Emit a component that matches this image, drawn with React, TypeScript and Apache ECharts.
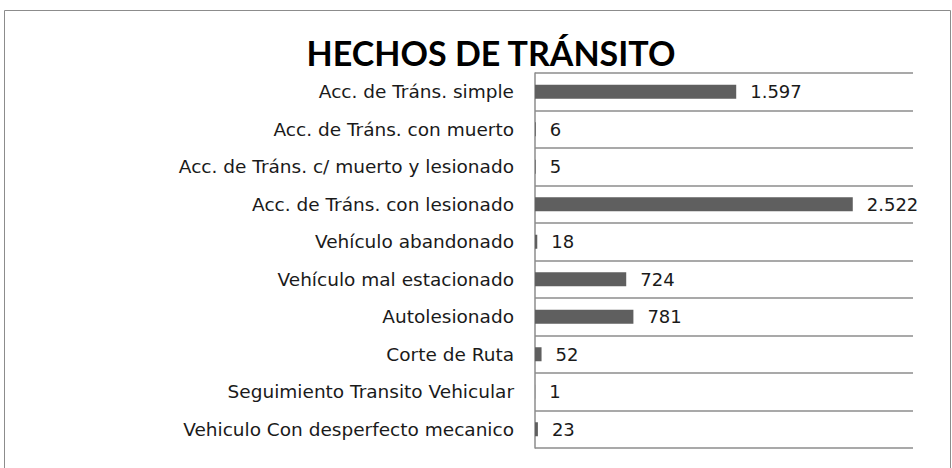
import React, { useEffect, useRef } from "react";
import * as echarts from "echarts";

const categories = [
  "Acc. de Tráns. simple",
  "Acc. de Tráns. con muerto",
  "Acc. de Tráns. c/ muerto y lesionado",
  "Acc. de Tráns. con lesionado",
  "Vehículo abandonado",
  "Vehículo mal estacionado",
  "Autolesionado",
  "Corte de Ruta",
  "Seguimiento Transito Vehicular",
  "Vehiculo Con desperfecto mecanico",
];
const values = [1597, 6, 5, 2522, 18, 724, 781, 52, 1, 23];
const title = "HECHOS DE TRÁNSITO";

const fmt = (v: number) => String(v).replace(/\B(?=(\d{3})+(?!\d))/g, ".");

export default function App() {
  const ref = useRef<HTMLDivElement>(null);
  useEffect(() => {
    document.body.style.margin = "0";
    const chart = echarts.init(ref.current!, null, { renderer: "svg" });
    const font = "DejaVu Sans";
    chart.setOption({
      animation: false,
      title: {
        text: title,
        left: 486,
        top: 30,
        textAlign: "center",
        textStyle: { fontFamily: "Lato", fontWeight: "bold", fontSize: 34, color: "#000" },
      },
      graphic: [
        {
          type: "rect",
          shape: { x: 4.5, y: 10.5, width: 946, height: 470 },
          style: { fill: "none", stroke: "#8c8c8c", lineWidth: 1 },
          silent: true,
        },
      ],
      grid: { left: 535, top: 73, width: 378, height: 375 },
      xAxis: {
        type: "value",
        min: 0,
        max: 3000,
        show: false,
      },
      yAxis: {
        type: "category",
        data: categories,
        inverse: true,
        axisLine: { show: true, lineStyle: { color: "#8c8c8c", width: 1.5 } },
        axisTick: { show: false },
        axisLabel: { fontFamily: font, fontSize: 18.5, color: "#1a1a1a", margin: 21 },
        splitLine: { show: true, lineStyle: { color: "#8c8c8c", width: 1.5 } },
      },
      series: [
        {
          type: "bar",
          data: values,
          barWidth: 14,
          itemStyle: { color: "#5f5f5f" },
          label: {
            show: true,
            position: "right",
            distance: 14,
            fontFamily: font,
            fontSize: 18,
            color: "#1a1a1a",
            formatter: (p: any) => fmt(p.value),
          },
        },
      ],
    });
    return () => chart.dispose();
  }, []);
  return <div ref={ref} style={{ width: 952, height: 468 }} />;
}
